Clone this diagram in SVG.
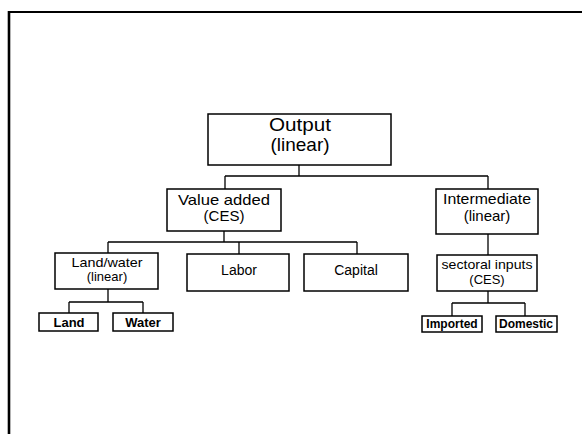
<svg xmlns="http://www.w3.org/2000/svg" width="582" height="434" viewBox="0 0 582 434">
<style>
.box{fill:#fff;stroke:#000;stroke-width:1.5}
.c{fill:none;stroke:#000;stroke-width:1.3}
text{font-family:"Liberation Sans",Arial,sans-serif;fill:#000;text-anchor:middle}
.b{font-weight:bold}
</style>
<rect width="582" height="434" fill="#fff"/>
<g id="frame">
<line x1="9" y1="12" x2="582" y2="12" stroke="#000" stroke-width="2.2"/>
<line x1="9" y1="11" x2="9" y2="434" stroke="#000" stroke-width="2.6"/>
</g>
<g id="connectors">
<path class="c" d="M299 165V176M225 176H488M225 176V189M488 176V189"/>
<path class="c" d="M224 231V242M108 242H357M108 242V253M239 242V254M357 242V254"/>
<path class="c" d="M108 289V302M69 302H143M69 302V313M143 302V313"/>
<path class="c" d="M488 234V255"/>
<path class="c" d="M488 291V303M452 303H525M452 303V316M525 303V316"/>
</g>
<g id="output">
<rect class="box" x="208" y="114" width="183" height="51"/>
<text x="300" y="131" font-size="19" textLength="62" lengthAdjust="spacingAndGlyphs">Output</text>
<text x="300" y="151" font-size="19">(linear)</text>
</g>
<g id="value-added">
<rect class="box" x="167" y="189" width="114" height="42"/>
<text x="224" y="205" font-size="15" textLength="92" lengthAdjust="spacingAndGlyphs">Value added</text>
<text x="224" y="221" font-size="15">(CES)</text>
</g>
<g id="intermediate">
<rect class="box" x="436" y="189" width="102" height="45"/>
<text x="487" y="204" font-size="15" textLength="88" lengthAdjust="spacingAndGlyphs">Intermediate</text>
<text x="487" y="221" font-size="15">(linear)</text>
</g>
<g id="land-water">
<rect class="box" x="55" y="253" width="103" height="36"/>
<text x="107" y="267" font-size="13" textLength="71" lengthAdjust="spacingAndGlyphs">Land/water</text>
<text x="107" y="281" font-size="13">(linear)</text>
</g>
<g id="labor">
<rect class="box" x="187" y="254" width="102" height="37"/>
<text x="239" y="275" font-size="14">Labor</text>
</g>
<g id="capital">
<rect class="box" x="304" y="254" width="104" height="37"/>
<text x="356" y="275" font-size="14">Capital</text>
</g>
<g id="sectoral-inputs">
<rect class="box" x="437" y="255" width="100" height="36"/>
<text x="487" y="269" font-size="13" textLength="91" lengthAdjust="spacingAndGlyphs">sectoral inputs</text>
<text x="487" y="284" font-size="13">(CES)</text>
</g>
<g id="land">
<rect class="box" x="39" y="313" width="59" height="18"/>
<text class="b" x="69" y="327" font-size="13">Land</text>
</g>
<g id="water">
<rect class="box" x="113" y="313" width="60" height="18"/>
<text class="b" x="143" y="327" font-size="13">Water</text>
</g>
<g id="imported">
<rect class="box" x="422" y="316" width="60" height="16"/>
<text class="b" x="452" y="328" font-size="12">Imported</text>
</g>
<g id="domestic">
<rect class="box" x="496" y="316" width="61" height="16"/>
<text class="b" x="526" y="328" font-size="12">Domestic</text>
</g>
</svg>
